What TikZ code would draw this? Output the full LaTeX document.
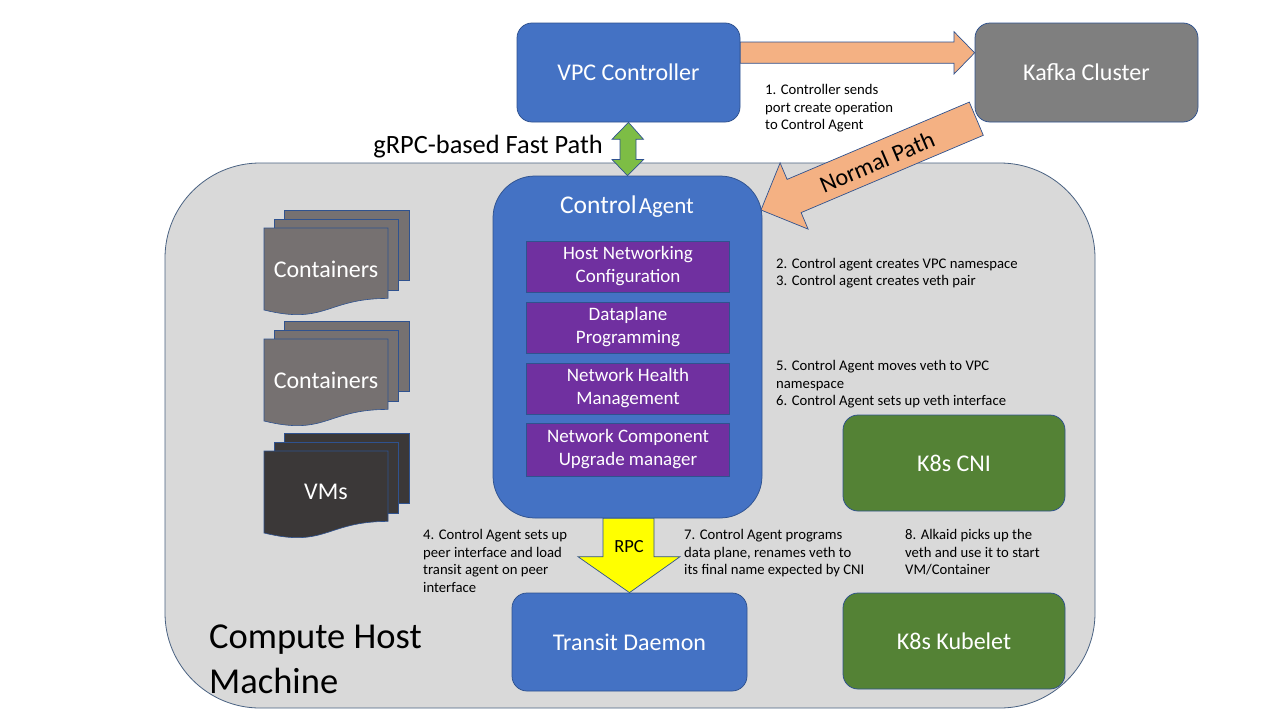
\documentclass[tikz,border=0pt]{standalone}
\usepackage{fontspec}
\setmainfont{Carlito}
\usetikzlibrary{calc}
\definecolor{accblue}{HTML}{4472C4}
\definecolor{bordblue}{HTML}{2F528F}
\definecolor{kafkagray}{HTML}{7F7F7F}
\definecolor{purp}{HTML}{7030A0}
\definecolor{k8green}{HTML}{548235}
\definecolor{orangearr}{HTML}{F4B183}
\definecolor{greenarr}{HTML}{7DBD45}
\definecolor{yellowarr}{HTML}{FFFF00}
\definecolor{hostgray}{HTML}{D9D9D9}
\definecolor{hostborder}{HTML}{4A6282}
\definecolor{docgray}{HTML}{767171}
\definecolor{docdark}{HTML}{3B3838}
\newcommand\myfs[2]{\fontsize{#1}{#2}\selectfont}
\tikzset{
  box/.style={draw=bordblue, line width=0.75pt, inner sep=0pt, text=white, align=center, font=\myfs{24}{29}},
  bluebox/.style={box, fill=accblue, rounded corners=15pt},
  graybox/.style={box, fill=kafkagray, rounded corners=15pt},
  greenbox/.style={box, fill=k8green, rounded corners=15pt},
  purpbox/.style={box, fill=purp, minimum width=203pt, font=\myfs{19}{23}},
  hostbox/.style={draw=hostborder, line width=0.8pt, fill=hostgray, rounded corners=95pt, inner sep=0pt},
  blockarrow/.style={draw=bordblue, line width=0.7pt, line join=miter},
  smalllabel/.style={anchor=north west, align=left, inner sep=0pt, text=black, font=\myfs{14.7}{17.5}},
  doctext/.style={inner sep=0pt, text=white, font=\myfs{24}{29}},
  pics/docstack/.style={code={
    \path[fill=#1, draw=bordblue, line width=0.6pt] (20,-18) rectangle (145,52);
    \path[fill=#1, draw=bordblue, line width=0.6pt] (10,-9) rectangle (134,62);
    \path[fill=#1, draw=bordblue, line width=0.6pt] (0,0) -- (124,0) -- (124,70.4)
      .. controls (62,70.4) and (62,97.2) .. (0,82) -- cycle;
  }}
}
\begin{document}
\begin{tikzpicture}[x=1pt,y=-1pt]
\useasboundingbox (0,0) rectangle (1280,720);
\fill[white] (0,0) rectangle (1280,720);

% compute host
\node[hostbox, minimum width=930pt, minimum height=545pt] (host) at (630,435.5) {};
\node[anchor=north west, align=left, inner sep=0pt, font=\myfs{36.5}{45}] (hostlbl) at (209,625) {Compute Host\\Machine};

% document stacks
\pic at (264,228) {docstack=docgray};
\node[doctext] (cont1) at (326,269) {Containers};
\pic at (264,339) {docstack=docgray};
\node[doctext] (cont2) at (326,380) {Containers};
\pic at (264,451) {docstack=docdark};
\node[doctext] (vms) at (326,492) {VMs};

% control agent
\node[bluebox, rounded corners=42pt, minimum width=269pt, minimum height=342pt] (ca) at (627.5,347) {};
\node[inner sep=0pt, text=white] (catitle) at (627,207) {{\myfs{25.5}{31}Control} {\myfs{23}{28}Agent}};
\node[purpbox, minimum height=51pt] (p1) at (628,266.5) {Host Networking\\Configuration};
\node[purpbox, minimum height=51pt] (p2) at (628,327.5) {Dataplane\\Programming};
\node[purpbox, minimum height=51pt] (p3) at (628,388.5) {Network Health\\Management};
\node[purpbox, minimum height=53pt] (p4) at (628,449.5) {Network Component\\Upgrade manager};

% normal path arrow
\path[blockarrow, fill=orangearr] (761,210) -- (780.1,162.9) -- (787.1,179.4) -- (969.3,102.1)
  -- (983.3,135.3) -- (801.1,212.6) -- (808.1,229.1) -- cycle;
\node[rotate=23, inner sep=0pt, font=\myfs{24}{29}] (normal) at (877,162) {Normal Path};

% top boxes
\node[bluebox, minimum width=223pt, minimum height=99pt] (vpc) at (628.5,72.5) {VPC Controller};
\node[graybox, minimum width=223pt, minimum height=99pt] (kafka) at (1086.5,72.5) {Kafka Cluster};

% controller -> kafka arrow
\path[blockarrow, fill=orangearr] (vpc.east |- 0,42) -- (954,42) -- (954,31.7) -- (kafka.west |- 0,52.8)
  -- (954,74) -- (954,63.3) -- (vpc.east |- 0,63.3) -- cycle;
\node[smalllabel] (l1) at (765,84.5) {1. Controller sends\\port create operation\\to Control Agent};

% fast path double arrow
\path[blockarrow, fill=greenarr] (vpc.south) -- (643.5,139.3) -- (636,139.3) -- (636,159.5) -- (643.5,159.5)
  -- (ca.north) -- (612,159.5) -- (620,159.5) -- (620,139.3) -- (612,139.3) -- cycle;
\node[anchor=base east, inner sep=0pt, font=\myfs{26.4}{31}] (grpc) at (603,153.3) {gRPC-based Fast Path};

% transit and RPC arrow
\node[bluebox, minimum width=235pt, minimum height=98pt] (transit) at (629.5,642) {Transit Daemon};
\path[blockarrow, fill=yellowarr] (603,0 |- ca.south) -- (654,0 |- ca.south) -- (654,556.7) -- (680,556.7)
  -- (transit.north) -- (578,556.7) -- (603,556.7) -- cycle;
\node[inner sep=0pt, font=\myfs{18.5}{22}] (rpc) at (629,547) {RPC};

% k8s boxes
\node[greenbox, minimum width=222pt, minimum height=96pt] (cni) at (954,463) {K8s CNI};
\node[greenbox, minimum width=222pt, minimum height=96pt] (kubelet) at (954,641) {K8s Kubelet};

% labels
\node[smalllabel] (l23) at (776,257.8) {2. Control agent creates VPC namespace\\3. Control agent creates veth pair};
\node[smalllabel] (l56) at (776,360.2) {5. Control Agent moves veth to VPC\\namespace\\6. Control Agent sets up veth interface};
\node[smalllabel] (l4) at (423,529.5) {4. Control Agent sets up\\peer interface and load\\transit agent on peer\\interface};
\node[smalllabel] (l7) at (684,529.5) {7. Control Agent programs\\data plane, renames veth to\\its final name expected by CNI};
\node[smalllabel] (l8) at (905,529.5) {8. Alkaid picks up the\\veth and use it to start\\VM/Container};
\end{tikzpicture}
\end{document}
